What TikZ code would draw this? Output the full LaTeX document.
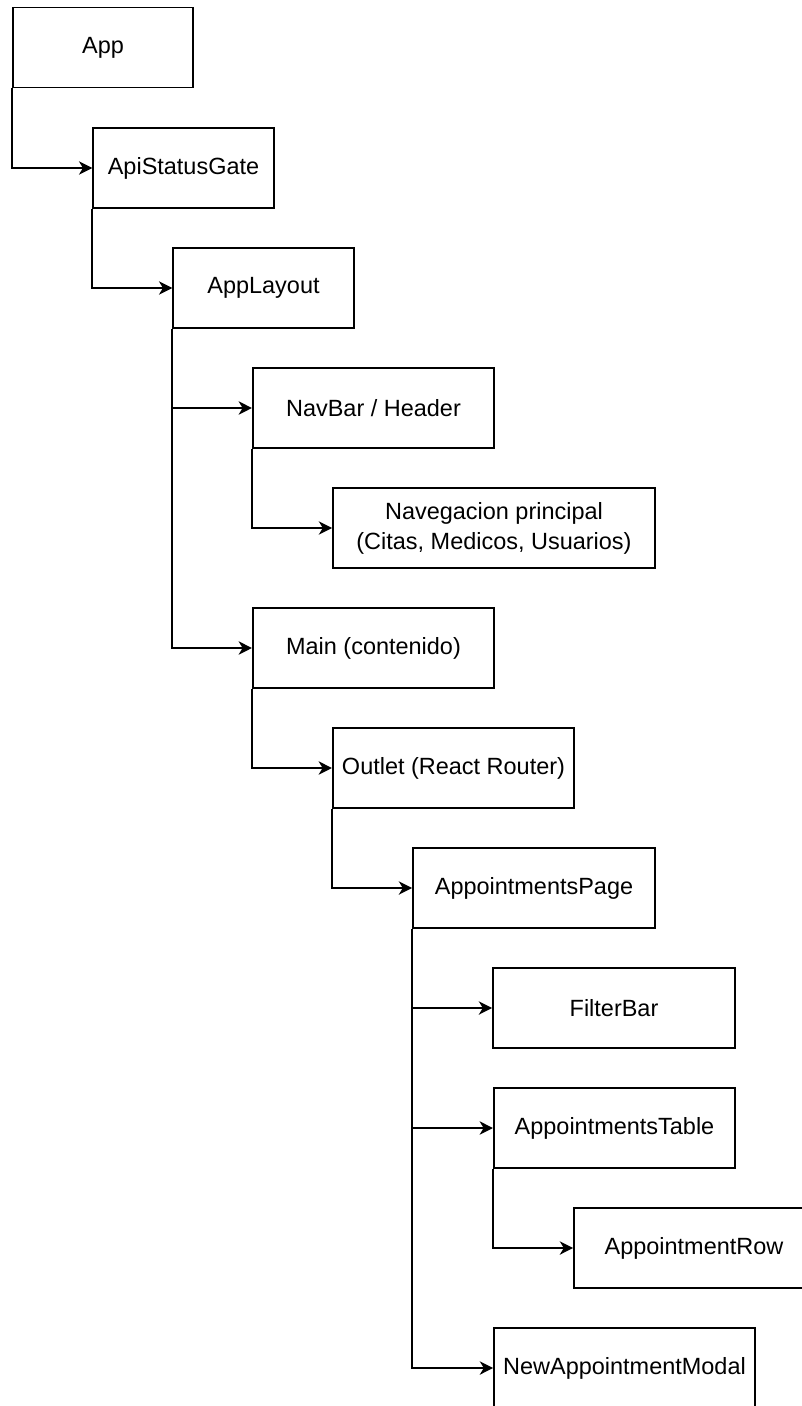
\documentclass[tikz,border=0pt]{standalone}
\usepackage{fontspec}
\setmainfont{Liberation Sans}
\usetikzlibrary{arrows.meta}

\tikzset{
  comp/.style={draw, line width=1.3pt, rectangle, minimum height=60pt, inner sep=0pt, align=center},
  link/.style={line width=1.3pt, -{Stealth[length=10pt, width=10pt, inset=3pt]}}
}

\begin{document}
\begin{tikzpicture}[x=0.75pt, y=-0.75pt, font=\fontsize{17.6}{22.5}\selectfont]
    % Frame
    \useasboundingbox (0,0) rectangle (802,1406);
    \clip (0,0) rectangle (802,1406);

    % Draw components
    \node[comp, minimum width=135pt] (app) at (103,47.5) {App};
    \node[comp, minimum width=135.5pt] (gate) at (183.5,168) {ApiStatusGate};
    \node[comp, minimum width=135.5pt] (layout) at (263.5,288) {AppLayout};
    \node[comp, minimum width=181pt] (navbar) at (373.5,408) {NavBar / Header};
    \node[comp, minimum width=241.5pt] (navmain) at (494,528) {Navegacion principal\\(Citas, Medicos, Usuarios)};
    \node[comp, minimum width=181pt] (main) at (373.5,648) {Main (contenido)};
    \node[comp, minimum width=181pt] (outlet) at (453.5,768) {Outlet (React Router)};
    \node[comp, minimum width=181.5pt] (page) at (534,888) {AppointmentsPage};
    \node[comp, minimum width=181.5pt] (filter) at (614,1008) {FilterBar};
    \node[comp, minimum width=181pt] (table) at (614.5,1128) {AppointmentsTable};
    \node[comp, minimum width=180pt] (row) at (694,1248) {AppointmentRow};
    \node[comp, minimum width=195.75pt] (modal) at (624.5,1368) {NewAppointmentModal};

    % Draw links
    \draw[link] (app.south west) |- (gate.west);
    \draw[link] (gate.south west) |- (layout.west);
    \draw[link] (layout.south west) |- (navbar.west);
    \draw[link] (layout.south west) |- (main.west);
    \draw[link] (navbar.south west) |- (navmain.west);
    \draw[link] (main.south west) |- (outlet.west);
    \draw[link] (outlet.south west) |- (page.west);
    \draw[link] (page.south west) |- (filter.west);
    \draw[link] (page.south west) |- (table.west);
    \draw[link] (page.south west) |- (modal.west);
    \draw[link] (table.south west) |- (row.west);
\end{tikzpicture}
\end{document}
